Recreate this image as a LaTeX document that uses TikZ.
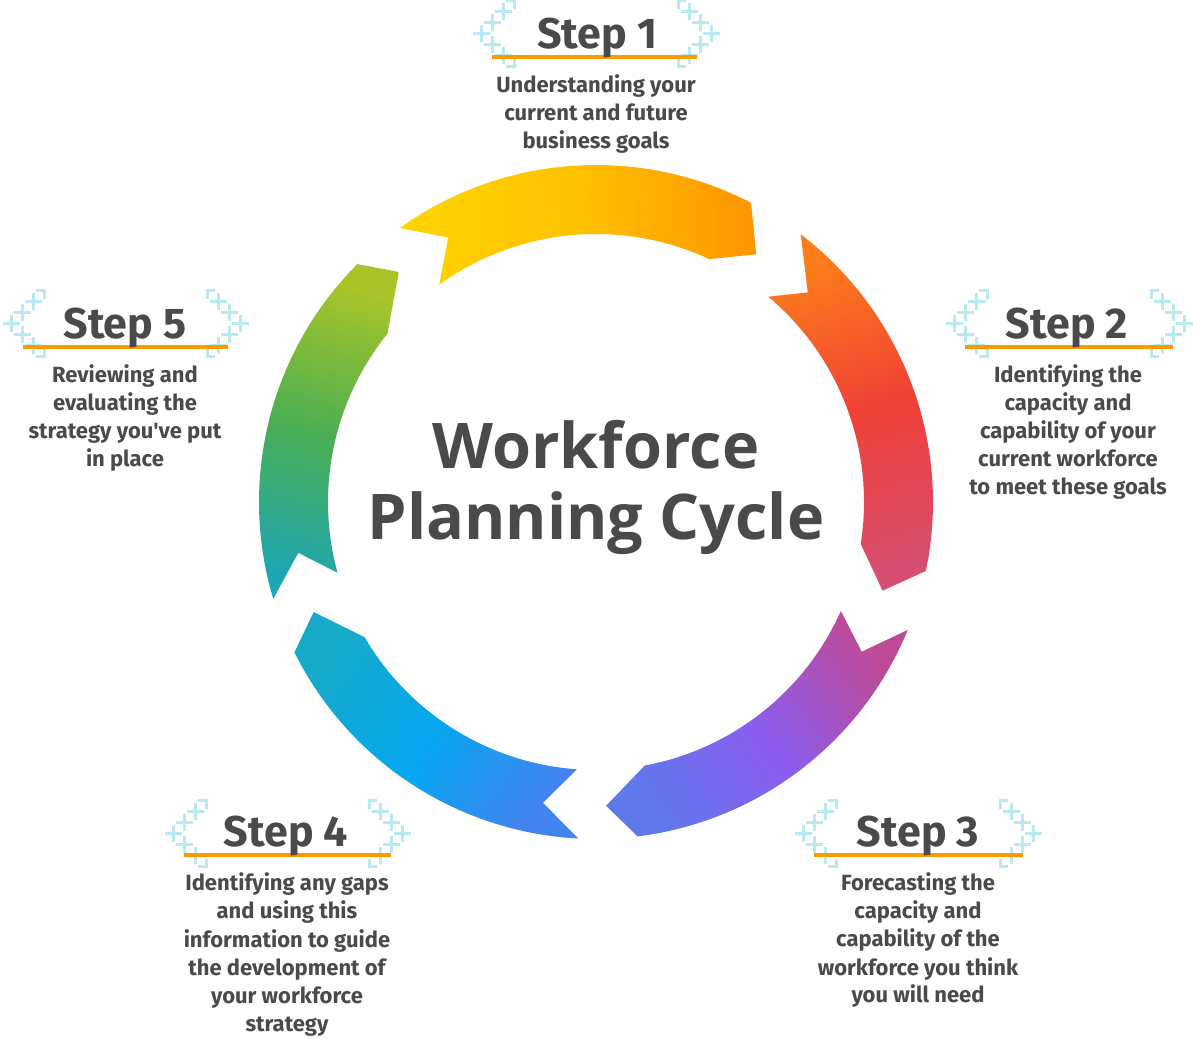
\documentclass[tikz,border=0pt]{standalone}
\usepackage{fontspec}
\setmainfont{Fira Sans}
\newfontfamily\titlefont{Open Sans}
\newfontfamily\stepfont{Fira Sans}
\newfontfamily\bodyfont{Fira Sans}
\definecolor{txt}{RGB}{74,74,74}
\definecolor{brk}{RGB}{184,234,242}
\definecolor{uline}{RGB}{255,153,0}
\colorlet{segA}{red}\colorlet{segB}{green}\colorlet{segC}{blue}
\pgfdeclareverticalshading[segA,segB,segC]{segshade}{100bp}{color(0bp)=(segC); color(25bp)=(segC); color(50bp)=(segB); color(75bp)=(segA); color(100bp)=(segA)}
\newcommand{\segpath}[8]{(#1:337) arc[start angle=#1, end angle=#2, radius=337] -- (#3:#4) -- (#5:268) arc[start angle=#5, end angle=#6, radius=268] -- (#7:#8) -- cycle}
\begin{document}
\begin{tikzpicture}[x=1pt,y=1pt,
  plusline/.style={draw=brk, line width=3pt},
  ulinestyle/.style={draw=uline, line width=3.2pt},
  lbrack/.pic={
    \foreach \px/\py in {0/0,11/11,22/22,11/-11,22/-22}{
      \draw[plusline] (\px-8.5,\py) -- (\px+8.5,\py) (\px,\py-8.5) -- (\px,\py+8.5);
    }
    \draw[plusline] (25,33) -- (34.5,33) (33,34.5) -- (33,25);
    \draw[plusline] (25,-33) -- (34.5,-33) (33,-34.5) -- (33,-25);
  },
  steplabel/.style={font=\stepfont\bfseries\fontsize{43}{43}\selectfont, text=txt, anchor=base, inner sep=0pt},
  bodytext/.style={font=\bodyfont\bfseries\fontsize{22}{28}\selectfont, text=txt, align=center, anchor=base, inner sep=0pt},
  titletext/.style={font=\titlefont\bfseries\fontsize{63}{71}\selectfont, text=txt, anchor=base, inner sep=0pt}
]
\useasboundingbox (0,0) rectangle (1193,1038);
\fill[white] (0,0) rectangle (1193,1038);

\begin{scope}[shift={(596,536)}]
  % segment 1
  \colorlet{segA}{rgb,255:red,255;green,212;blue,0}
  \colorlet{segB}{rgb,255:red,254;green,194;blue,0}
  \colorlet{segC}{rgb,255:red,255;green,148;blue,0}
  \shade[shading=segshade, shading angle=91.4] \segpath{125.6}{62.6}{57.1}{295}{65}{125.8}{119.2}{303};
  % segment 2
  \colorlet{segA}{rgb,255:red,252;green,125;blue,25}
  \colorlet{segB}{rgb,255:red,240;green,65;blue,55}
  \colorlet{segC}{rgb,255:red,215;green,78;blue,112}
  \shade[shading=segshade, shading angle=17.7] \segpath{52.6}{-11.8}{-17.2}{300}{-9.0}{50.0}{44.7}{298};
  % segment 3
  \colorlet{segA}{rgb,255:red,190;green,75;blue,152}
  \colorlet{segB}{rgb,255:red,140;green,92;blue,238}
  \colorlet{segC}{rgb,255:red,95;green,120;blue,235}
  \shade[shading=segshade, shading angle=-55.2] \segpath{-22.3}{-82.9}{-88.1}{304}{-79.5}{-24.0}{-29.4}{305};
  % segment 4
  \colorlet{segA}{rgb,255:red,65;green,132;blue,240}
  \colorlet{segB}{rgb,255:red,5;green,168;blue,240}
  \colorlet{segC}{rgb,255:red,22;green,170;blue,200}
  \shade[shading=segshade, shading angle=-125.9] \segpath{-93.0}{-153.5}{-158.7}{303}{-149.7}{-94.1}{-100}{305.5};
  % segment 5
  \colorlet{segA}{rgb,255:red,30;green,166;blue,178}
  \colorlet{segB}{rgb,255:red,75;green,175;blue,82}
  \colorlet{segC}{rgb,255:red,168;green,196;blue,40}
  \shade[shading=segshade, shading angle=163.7] \segpath{196.7}{135.1}{130.6}{303}{141.1}{195.3}{189.7}{302};
\end{scope}

% title
\node[titletext] (t1) at (596,569) {Workforce};
\node[titletext] (t2) at (596,498) {Planning Cycle};

% step 1
\pic at (481,1004) {lbrack};
\pic[xscale=-1] at (711,1004) {lbrack};
\draw[ulinestyle] (492,981) -- (697,981);
\node[steplabel] (s1) at (597,989) {Step 1};
\node[bodytext] (b1) at (596,889) {Understanding your\\current and future\\business goals};

% step 2
\pic at (954,714) {lbrack};
\pic[xscale=-1] at (1184,714) {lbrack};
\draw[ulinestyle] (965,691) -- (1173,691);
\node[steplabel] (s2) at (1067,699) {Step 2};
\node[bodytext] (b2) at (1068,543) {Identifying the\\capacity and\\capability of your\\current workforce\\to meet these goals};

% step 3
\pic at (803,204) {lbrack};
\pic[xscale=-1] at (1033,204) {lbrack};
\draw[ulinestyle] (814,183) -- (1023,183);
\node[steplabel] (s3) at (918,191) {Step 3};
\node[bodytext] (b3) at (918,35) {Forecasting the\\capacity and\\capability of the\\workforce you think\\you will need};

% step 4
\pic at (173,204) {lbrack};
\pic[xscale=-1] at (402,204) {lbrack};
\draw[ulinestyle] (184,183) -- (391,183);
\node[steplabel] (s4) at (286,191) {Step 4};
\node[bodytext] (b4) at (287,7) {Identifying any gaps\\and using this\\information to guide\\the development of\\your workforce\\strategy};

% step 5
\pic at (11,714) {lbrack};
\pic[xscale=-1] at (240,714) {lbrack};
\draw[ulinestyle] (23,691) -- (228,691);
\node[steplabel] (s5) at (125,699) {Step 5};
\node[bodytext] (b5) at (125,571) {Reviewing and\\evaluating the\\strategy you\textquotesingle ve put\\in place};
\end{tikzpicture}
\end{document}
